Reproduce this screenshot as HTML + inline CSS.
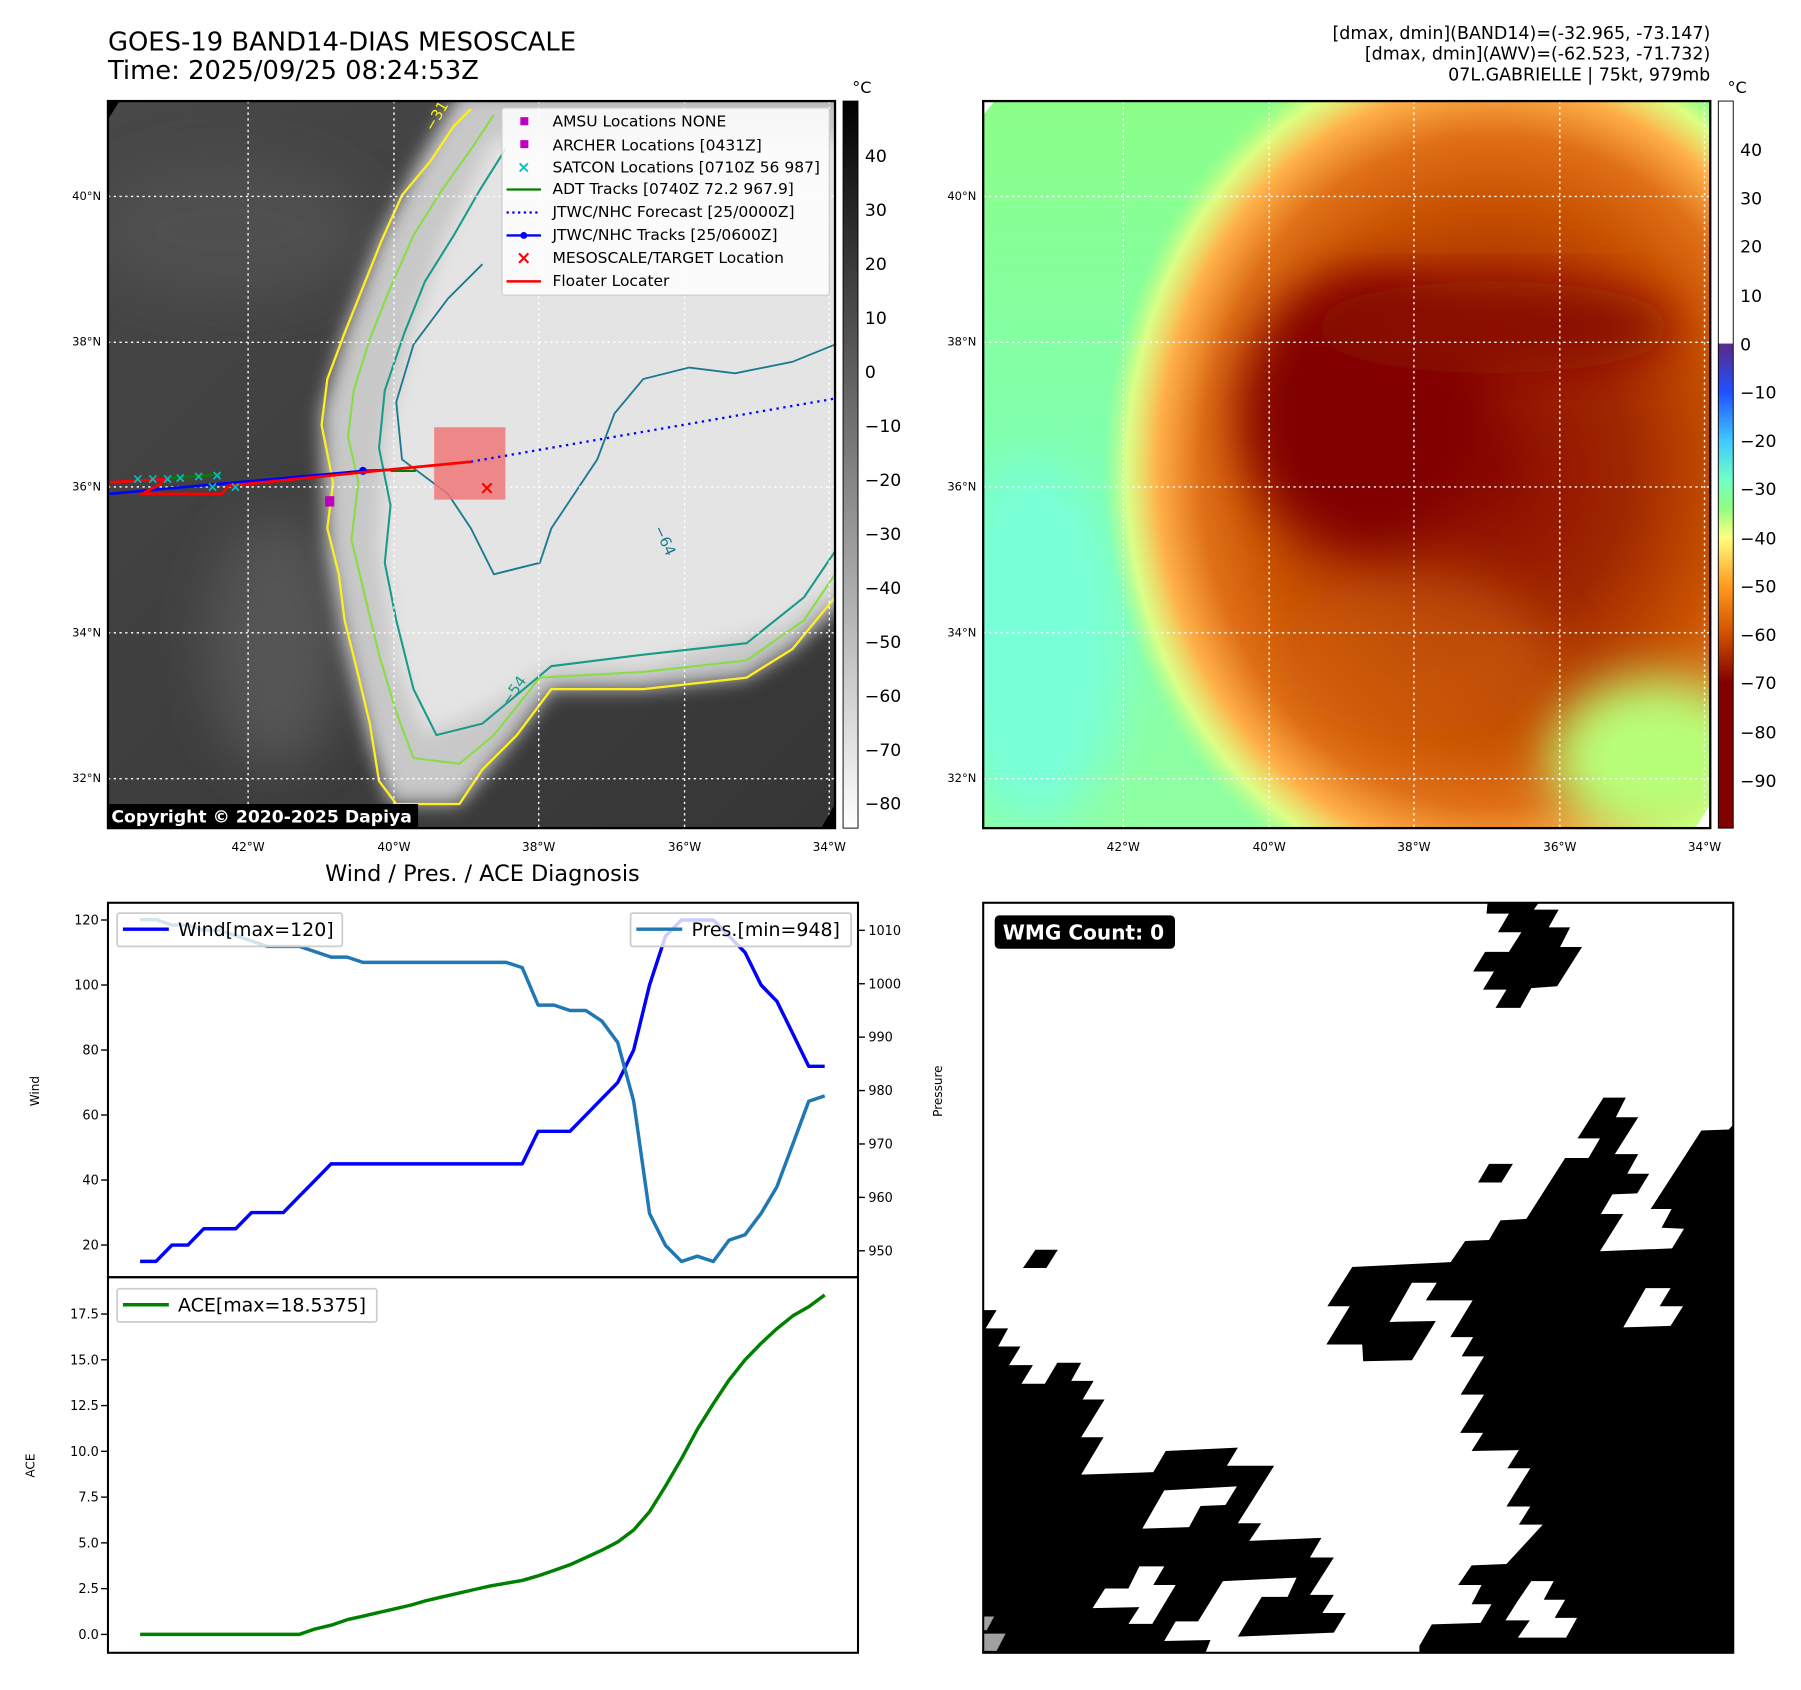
<!DOCTYPE html>
<html><head><meta charset="utf-8"><style>
html,body{margin:0;padding:0;background:#fff;}
svg{display:block;font-family:"DejaVu Sans","Liberation Sans",sans-serif;}
</style></head><body>
<svg id="root" width="1801" height="1690" viewBox="0 0 1568 1471.4" preserveAspectRatio="none" xmlns="http://www.w3.org/2000/svg">
<defs>
  <filter id="blur8" x="-20%" y="-20%" width="140%" height="140%"><feGaussianBlur stdDeviation="8"/></filter>
  <filter id="blur20" x="-30%" y="-30%" width="160%" height="160%"><feGaussianBlur stdDeviation="22"/></filter>
  <clipPath id="clip1"><rect x="94" y="88" width="633" height="633"/></clipPath>
  <clipPath id="clip2"><rect x="856" y="88" width="633" height="633"/></clipPath>
  <linearGradient id="cb1" x1="0" y1="0" x2="0" y2="1">
    <stop offset="0" stop-color="#000"/><stop offset="1" stop-color="#fff"/>
  </linearGradient>
  <linearGradient id="cb2" x1="0" y1="0" x2="0" y2="1">
    <stop offset="0" stop-color="#fff"/><stop offset="0.333" stop-color="#fff"/>
    <stop offset="0.334" stop-color="#5a2a88"/><stop offset="0.40" stop-color="#2050ff"/>
    <stop offset="0.467" stop-color="#40c8ff"/><stop offset="0.52" stop-color="#70ffc8"/>
    <stop offset="0.56" stop-color="#90ff80"/><stop offset="0.60" stop-color="#ffff80"/>
    <stop offset="0.667" stop-color="#ff9a20"/><stop offset="0.733" stop-color="#d05000"/>
    <stop offset="0.80" stop-color="#800000"/><stop offset="1" stop-color="#800000"/>
  </linearGradient>
  <linearGradient id="bg2" x1="0" y1="0" x2="0" y2="1">
    <stop offset="0" stop-color="#8cff88"/><stop offset="0.5" stop-color="#80ffb0"/><stop offset="1" stop-color="#90ffa0"/>
  </linearGradient>
  <radialGradient id="storm" cx="0.5" cy="0.5" r="0.5">
    <stop offset="0" stop-color="#8a0a00"/><stop offset="0.35" stop-color="#a02800"/>
    <stop offset="0.6" stop-color="#c85200"/><stop offset="0.75" stop-color="#e07018"/>
    <stop offset="0.86" stop-color="#ffb048"/><stop offset="0.94" stop-color="#f0ff80" stop-opacity="0.8"/>
    <stop offset="1" stop-color="#c0ff80" stop-opacity="0"/>
  </radialGradient>
  <linearGradient id="irbg" x1="0" y1="0" x2="1" y2="1">
    <stop offset="0" stop-color="#484848"/><stop offset="0.5" stop-color="#3e3e3e"/><stop offset="1" stop-color="#363636"/>
  </linearGradient>
</defs>

<!-- Titles -->
<text x="94" y="44" font-size="22.5">GOES-19 BAND14-DIAS MESOSCALE</text>
<text x="94" y="69" font-size="22.5">Time: 2025/09/25 08:24:53Z</text>
<g font-size="15.2" text-anchor="end">
  <text x="1489" y="34">[dmax, dmin](BAND14)=(-32.965, -73.147)</text>
  <text x="1489" y="52">[dmax, dmin](AWV)=(-62.523, -71.732)</text>
  <text x="1489" y="70">07L.GABRIELLE | 75kt, 979mb</text>
</g>

<!-- Map 1 IR -->
<g clip-path="url(#clip1)">
  <rect x="94" y="88" width="633" height="633" fill="url(#irbg)"/>
  <ellipse cx="200" cy="200" rx="120" ry="60" fill="#505050" filter="url(#blur20)"/>
  <ellipse cx="240" cy="560" rx="60" ry="110" fill="#555" filter="url(#blur20)"/>
  <path d="M400,80 L740,80 L740,520 L690,565 L650,590 L560,600 L480,600 L450,640 L400,700 L340,700 L320,640 L300,560 L285,480 L282,420 L280,360 L300,290 L330,210 L360,150 Z" fill="#c8c8c8" filter="url(#blur8)"/>
  <path d="M430,120 L740,120 L740,500 L680,545 L560,580 L480,580 L420,620 L370,640 L345,580 L330,480 L335,380 L360,280 L390,200 Z" fill="#e4e4e4" filter="url(#blur8)"/>
  <path d="M410,95 L395,110 L375,140 L350,170 L332,210 L316,250 L300,290 L285,330 L280,370 L290,420 L285,460 L295,500 L300,540 L310,580 L322,630 L330,680 L345,700 L400,700 L420,670 L450,640 L480,600 L560,600 L650,590 L690,565 L727,520" fill="none" stroke="#ffee22" stroke-width="2"/>
  <path d="M430,100 L410,130 L385,165 L360,205 L340,250 L322,295 L308,340 L303,380 L312,420 L306,470 L318,520 L330,570 L345,620 L360,660 L400,665 L430,640 L470,590 L560,585 L650,575 L700,540 L727,500" fill="none" stroke="#88dd44" stroke-width="1.8"/>
  <path d="M440,130 L418,165 L395,205 L370,245 L352,290 L335,340 L330,390 L340,440 L335,490 L345,540 L360,600 L380,640 L420,630 L480,580 L560,570 L650,560 L700,520 L727,480" fill="none" stroke="#1a9a8a" stroke-width="1.8"/>
  <path d="M727,300 L690,315 L640,325 L600,320 L560,330 L535,360 L520,400 L500,430 L480,460 L470,490 L430,500 L410,460 L390,430 L350,400 L345,350 L360,300 L390,260 L420,230" fill="none" stroke="#1e7890" stroke-width="1.6"/>
  <g stroke="#fff" stroke-width="1.2" stroke-dasharray="2,3">
    <line x1="216" y1="88" x2="216" y2="721"/><line x1="343" y1="88" x2="343" y2="721"/>
    <line x1="469" y1="88" x2="469" y2="721"/><line x1="596" y1="88" x2="596" y2="721"/>
    <line x1="722" y1="88" x2="722" y2="721"/>
    <line x1="94" y1="171" x2="727" y2="171"/><line x1="94" y1="298" x2="727" y2="298"/>
    <line x1="94" y1="424" x2="727" y2="424"/><line x1="94" y1="551" x2="727" y2="551"/>
    <line x1="94" y1="678" x2="727" y2="678"/>
  </g>
  <polygon points="94,88 104,88 94,104" fill="#000"/>
  <polygon points="727,700 727,721 715,721" fill="#000"/>
  <rect x="378" y="372" width="62" height="63" fill="#f07878" opacity="0.85"/>
  <polyline points="410,402 727,347" fill="none" stroke="#0000ff" stroke-width="2" stroke-dasharray="2,4"/>
  <polyline points="95,430 316,410 340,409" fill="none" stroke="#0000ff" stroke-width="2.2"/>
  <circle cx="316" cy="410" r="3.5" fill="#0000ff"/>
  <polyline points="149,416 192,413" fill="none" stroke="#008000" stroke-width="2"/>
  <polyline points="340,410 362,410" fill="none" stroke="#008000" stroke-width="2"/>
  <polyline points="95,420 147,417 124,430 193,430 199,423 348,408 410,402" fill="none" stroke="#ff0000" stroke-width="2.4"/>
  <g fill="#00c0c0" font-size="12" font-weight="bold" text-anchor="middle">
    <text x="120" y="421">×</text><text x="133" y="421">×</text><text x="146" y="421">×</text><text x="157" y="420">×</text><text x="173" y="419">×</text><text x="189" y="418">×</text><text x="185" y="428">×</text><text x="205" y="428">×</text>
  </g>
  <rect x="283" y="432" width="8" height="9" fill="#c000c0"/>
  <text x="424" y="430" font-size="16" font-weight="bold" fill="#ff0000" text-anchor="middle">×</text>
  <text x="377" y="115" font-size="13" fill="#ffee22" transform="rotate(-60 377 115)">−31</text>
  <text x="569" y="460" font-size="13" fill="#1e7890" transform="rotate(65 569 460)">−64</text>
  <text x="443" y="615" font-size="13" fill="#1a9a8a" transform="rotate(-55 443 615)">−54</text>
</g>
<rect x="94" y="88" width="633" height="633" fill="none" stroke="#000" stroke-width="2"/>
<!-- legend -->
<g>
  <rect x="437" y="94" width="285" height="163" fill="#fff" fill-opacity="0.85" stroke="#ccc" rx="2"/>
  <g font-size="13.5">
    <rect x="453" y="102" width="7" height="7" fill="#c000c0"/><text x="481" y="110">AMSU Locations NONE</text>
    <rect x="453" y="122" width="7" height="7" fill="#c000c0"/><text x="481" y="131">ARCHER Locations [0431Z]</text>
    <text x="456" y="150" fill="#00c0c0" font-weight="bold" text-anchor="middle" font-size="14">×</text><text x="481" y="150">SATCON Locations [0710Z 56 987]</text>
    <line x1="441" y1="165" x2="471" y2="165" stroke="#008000" stroke-width="2"/><text x="481" y="169">ADT Tracks [0740Z 72.2 967.9]</text>
    <line x1="441" y1="185" x2="471" y2="185" stroke="#0000ff" stroke-width="2" stroke-dasharray="2,3"/><text x="481" y="189">JTWC/NHC Forecast [25/0000Z]</text>
    <line x1="441" y1="205" x2="471" y2="205" stroke="#0000ff" stroke-width="2"/><circle cx="456" cy="205" r="3" fill="#0000ff"/><text x="481" y="209">JTWC/NHC Tracks [25/0600Z]</text>
    <text x="456" y="230" fill="#ff0000" font-weight="bold" text-anchor="middle" font-size="16">×</text><text x="481" y="229">MESOSCALE/TARGET Location</text>
    <line x1="441" y1="245" x2="471" y2="245" stroke="#ff0000" stroke-width="2.2"/><text x="481" y="249">Floater Locater</text>
  </g>
</g>
<g>
  <rect x="94" y="700" width="270" height="21" fill="#000"/>
  <text x="97" y="716" font-size="15" font-weight="bold" fill="#fff">Copyright © 2020-2025 Dapiya</text>
</g>
<g font-size="10" text-anchor="end">
  <text x="88" y="174">40°N</text><text x="88" y="301">38°N</text><text x="88" y="427">36°N</text><text x="88" y="554">34°N</text><text x="88" y="681">32°N</text>
</g>
<g font-size="10.5" text-anchor="middle">
  <text x="216" y="741">42°W</text><text x="343" y="741">40°W</text><text x="469" y="741">38°W</text><text x="596" y="741">36°W</text><text x="722" y="741">34°W</text>
</g>
<!-- colorbar 1 -->
<g>
  <rect x="734" y="88" width="13" height="633" fill="url(#cb1)" stroke="#000" stroke-width="0.8"/>
  <text x="742" y="81" font-size="14">°C</text>
  <g font-size="15">
    <text x="753" y="141">40</text><text x="753" y="188">30</text><text x="753" y="235">20</text><text x="753" y="282">10</text><text x="753" y="329">0</text>
    <text x="753" y="376">−10</text><text x="753" y="423">−20</text><text x="753" y="470">−30</text><text x="753" y="517">−40</text><text x="753" y="564">−50</text>
    <text x="753" y="611">−60</text><text x="753" y="658">−70</text><text x="753" y="705">−80</text>
  </g>
</g>

<!-- Map 2 -->
<g clip-path="url(#clip2)">
  <rect x="856" y="88" width="633" height="633" fill="url(#bg2)"/>
  <ellipse cx="900" cy="560" rx="80" ry="160" fill="#78ffd8" filter="url(#blur20)"/>
  <ellipse cx="1300" cy="410" rx="340" ry="390" fill="url(#storm)"/>
  <ellipse cx="1190" cy="360" rx="110" ry="120" fill="#800000" filter="url(#blur20)"/>
  <ellipse cx="1300" cy="285" rx="160" ry="40" fill="#8a0800" filter="url(#blur20)"/>
  <ellipse cx="1230" cy="570" rx="120" ry="70" fill="#d06010" filter="url(#blur20)" opacity="0.6"/>
  <ellipse cx="1440" cy="660" rx="90" ry="70" fill="#b8ff78" filter="url(#blur20)"/>
  <g stroke="#fff" stroke-width="1.2" stroke-dasharray="2,3">
    <line x1="978" y1="88" x2="978" y2="721"/><line x1="1105" y1="88" x2="1105" y2="721"/>
    <line x1="1231" y1="88" x2="1231" y2="721"/><line x1="1358" y1="88" x2="1358" y2="721"/>
    <line x1="1484" y1="88" x2="1484" y2="721"/>
    <line x1="856" y1="171" x2="1489" y2="171"/><line x1="856" y1="298" x2="1489" y2="298"/>
    <line x1="856" y1="424" x2="1489" y2="424"/><line x1="856" y1="551" x2="1489" y2="551"/>
    <line x1="856" y1="678" x2="1489" y2="678"/>
  </g>
  <polygon points="856,88 866,88 856,100" fill="#fff"/>
  <polygon points="1489,700 1489,721 1476,721" fill="#fff"/>
</g>
<rect x="856" y="88" width="633" height="633" fill="none" stroke="#000" stroke-width="2"/>
<g font-size="10" text-anchor="end">
  <text x="850" y="174">40°N</text><text x="850" y="301">38°N</text><text x="850" y="427">36°N</text><text x="850" y="554">34°N</text><text x="850" y="681">32°N</text>
</g>
<g font-size="10.5" text-anchor="middle">
  <text x="978" y="741">42°W</text><text x="1105" y="741">40°W</text><text x="1231" y="741">38°W</text><text x="1358" y="741">36°W</text><text x="1484" y="741">34°W</text>
</g>
<g>
  <rect x="1496" y="88" width="13" height="633" fill="url(#cb2)" stroke="#000" stroke-width="0.8"/>
  <text x="1504" y="81" font-size="14">°C</text>
  <g font-size="15">
    <text x="1515" y="136">40</text><text x="1515" y="178">30</text><text x="1515" y="220">20</text><text x="1515" y="263">10</text><text x="1515" y="305">0</text>
    <text x="1515" y="347">−10</text><text x="1515" y="389">−20</text><text x="1515" y="431">−30</text><text x="1515" y="474">−40</text><text x="1515" y="516">−50</text>
    <text x="1515" y="558">−60</text><text x="1515" y="600">−70</text><text x="1515" y="643">−80</text><text x="1515" y="685">−90</text>
  </g>
</g>

<!-- Chart -->
<text x="420" y="767" font-size="19.5" text-anchor="middle">Wind / Pres. / ACE Diagnosis</text>
<g id="chart"></g>
<rect x="94" y="786" width="653" height="326" fill="none" stroke="#000" stroke-width="1.8"/>
<rect x="94" y="1112" width="653" height="327" fill="none" stroke="#000" stroke-width="1.8"/>
<text x="34" y="950" font-size="10.5" text-anchor="middle" transform="rotate(-90 34 950)">Wind</text>
<text x="820" y="950" font-size="10.5" text-anchor="middle" transform="rotate(-90 820 950)">Pressure</text>
<text x="30" y="1276" font-size="10.5" text-anchor="middle" transform="rotate(-90 30 1276)">ACE</text>
<g>
  <rect x="102" y="795" width="196" height="29" fill="#fff" fill-opacity="0.8" stroke="#ccc" stroke-width="1.5" rx="2"/>
  <line x1="107" y1="809" x2="147" y2="809" stroke="#0000ff" stroke-width="3"/>
  <text x="155" y="815" font-size="16.5">Wind[max=120]</text>
</g>
<g>
  <rect x="549" y="795" width="192" height="29" fill="#fff" fill-opacity="0.8" stroke="#ccc" stroke-width="1.5" rx="2"/>
  <line x1="554" y1="809" x2="594" y2="809" stroke="#1f77b4" stroke-width="3"/>
  <text x="602" y="815" font-size="16.5">Pres.[min=948]</text>
</g>
<g>
  <rect x="102" y="1122" width="226" height="29" fill="#fff" fill-opacity="0.8" stroke="#ccc" stroke-width="1.5" rx="2"/>
  <line x1="107" y1="1136" x2="147" y2="1136" stroke="#008000" stroke-width="3"/>
  <text x="155" y="1142" font-size="16.5">ACE[max=18.5375]</text>
</g>

<!-- WMG panel -->
<g>
  <rect x="856" y="786" width="653" height="653" fill="#fff"/>
  <svg x="856" y="786" width="653" height="653" viewBox="8 8 1508 1528" preserveAspectRatio="none">
    <g fill="#000">
      <polygon points="1022,8 1125,8 1115,22 1165,22 1145,58 1188,58 1168,98 1212,98 1162,178 1110,182 1088,222 1038,222 1060,185 1013,185 1035,148 993,148 1017,108 1065,108 1090,68 1043,68 1065,30 1020,30"/>
      <polygon points="1516,460 1507,470 1452,472 1350,632 1392,632 1372,670 1417,672 1393,712 1248,718 1295,642 1250,642 1273,602 1323,600 1347,560 1303,560 1325,520 1278,520 1325,445 1280,445 1300,405 1255,405 1203,488 1248,488 1225,528 1178,528 1100,652 1048,655 1025,695 977,697 948,740 750,750 700,830 745,830 698,908 770,908 772,942 870,940 918,860 825,862 870,782 920,782 898,818 992,818 947,893 993,893 970,932 1015,932 968,1010 1015,1010 967,1088 1013,1088 990,1125 1085,1123 1062,1160 1108,1160 1060,1238 1108,1238 1085,1275 1133,1275 1060,1355 990,1358 963,1398 1010,1398 990,1437 1030,1437 1008,1475 910,1478 885,1522 885,1536 1516,1536"/>
      <polygon points="8,838 35,838 13,875 58,875 38,912 83,912 60,950 108,950 85,988 132,988 157,945 205,945 185,982 230,982 208,1020 252,1020 205,1097 250,1097 205,1173 350,1168 375,1125 520,1118 498,1155 593,1155 520,1272 567,1272 543,1308 688,1302 665,1342 713,1342 665,1418 713,1418 690,1455 737,1455 713,1495 520,1503 568,1422 620,1422 638,1383 490,1390 440,1472 395,1472 372,1512 465,1510 455,1536 8,1536"/>
      <polygon points="113,715 158,715 135,752 88,752"/>
      <polygon points="1025,540 1073,540 1050,578 1003,578"/>
    </g>
    <g fill="#fff">
      <polygon points="1340,793 1390,793 1368,830 1415,830 1390,870 1295,873"/>
      <polygon points="1110,1390 1155,1390 1135,1428 1178,1428 1157,1465 1202,1465 1180,1505 1083,1505 1107,1470 1058,1470 1083,1430"/>
      <polygon points="372,1205 518,1197 495,1235 445,1237 422,1280 328,1283"/>
      <polygon points="322,1360 372,1360 350,1398 395,1398 348,1477 300,1477 322,1443 228,1445 253,1405 300,1405"/>
    </g>
    <polygon points="8,1462 30,1462 15,1490 8,1490" fill="#a0a0a0"/>
    <polygon points="8,1497 53,1497 35,1532 8,1532" fill="#a0a0a0"/>
  </svg>
  <rect x="856" y="786" width="653" height="653" fill="none" stroke="#000" stroke-width="1.8"/>
  <rect x="866" y="797" width="157" height="29" rx="4" fill="#000"/>
  <text x="873" y="818" font-size="17.5" font-weight="bold" fill="#fff">WMG Count: 0</text>
</g>

<script>
const windValues = [15,15,20,20,25,25,25,30,30,30,35,40,45,45,45,45,45,45,45,45,45,45,45,45,45,55,55,55,60,65,70,80,100,115,120,120,120,115,110,100,95,85,75,75];
const pressureValues = [1012,1012,1011,1011,1010,1010,1009,1008,1007,1007,1007,1006,1005,1005,1004,1004,1004,1004,1004,1004,1004,1004,1004,1004,1003,996,996,995,995,993,989,978,957,951,948,949,948,952,953,957,962,970,978,979];
const aceValues = [0,0,0,0,0,0,0,0,0,0,0,0.3,0.5,0.8,1.0,1.2,1.4,1.6,1.85,2.05,2.25,2.45,2.65,2.8,2.95,3.2,3.5,3.8,4.2,4.6,5.05,5.7,6.7,8.1,9.6,11.2,12.6,13.9,15.0,15.9,16.7,17.4,17.9,18.54];
const windTicks = [20,40,60,80,100,120];
const pressureTicks = [950,960,970,980,990,1000,1010];
const aceTicks = ["0.0","2.5","5.0","7.5","10.0","12.5","15.0","17.5"];

const NS = "http://www.w3.org/2000/svg";
const chart = document.getElementById("chart");
const n = windValues.length;
function xOf(i){ return 122 + i * (718 - 122) / (n - 1); }
function yWind(v){ return 801 + (120 - v) * 2.83; }
function yPres(p){ return 810 + (1010 - p) * 4.65; }
function yAce(a){ return 1423 - a * 15.94; }

function mk(tag, attrs){
  const el = document.createElementNS(NS, tag);
  for (const k in attrs) el.setAttribute(k, attrs[k]);
  chart.appendChild(el);
  return el;
}
function line(values, yf, color, name){
  const pts = values.map((v,i)=> xOf(i).toFixed(1)+","+yf(v).toFixed(1)).join(" ");
  const el = mk("polyline", {points: pts, fill: "none", stroke: color, "stroke-width": 3, "stroke-linejoin": "round"});
  
  
}
function tick(x1, y, x2, label, tx, anchor, name){
  mk("line", {x1: x1, y1: y, x2: x2, y2: y, stroke: "#000", "stroke-width": 1.2});
  const t = mk("text", {x: tx, y: y + 4, "font-size": 11.2, "text-anchor": anchor});
  t.textContent = label;
  
  
}
windTicks.forEach(v => tick(88, yWind(v), 94, String(v), 86, "end", "wind-tick-label"));
pressureTicks.forEach(p => tick(747, yPres(p), 753, String(p), 756, "start", "pressure-tick-label"));
aceTicks.forEach(a => tick(88, yAce(parseFloat(a)), 94, a, 86, "end", "ace-tick-label"));
line(windValues, yWind, "#0000ff", "wind-line");
line(pressureValues, yPres, "#1f77b4", "pressure-line");
line(aceValues, yAce, "#008000", "ace-line");
</script>
</svg>
</body></html>
